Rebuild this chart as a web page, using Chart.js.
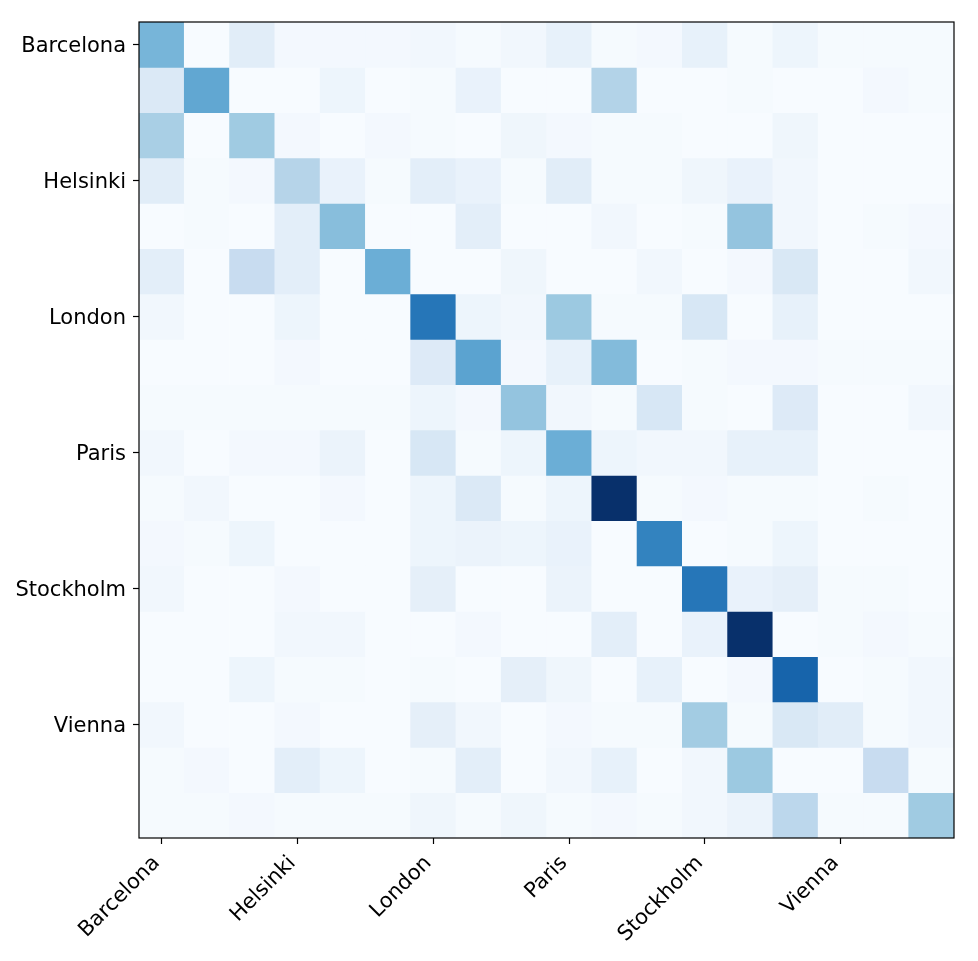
<!DOCTYPE html>
<html>
<head>
<meta charset="utf-8">
<script src="https://cdn.jsdelivr.net/npm/chart.js@4/dist/chart.umd.min.js"></script>
<style>
html,body{margin:0;padding:0;background:#fff;}
#c{display:block;}
</style>
</head>
<body>
<canvas id="c" width="978" height="961"></canvas>
<script>
// Categories (rows = true, columns = predicted)
const categories = ['Barcelona','Berlin','Budapest','Helsinki','Istanbul','Lisbon','London','Madrid','Munich','Paris','Prague','Rome','Stockholm','Tallinn','Valencia','Vienna','Warsaw','Zurich'];
// Which tick labels are shown (every third category)
const tickIndices = [0,3,6,9,12,15];

// Cell values, one array per row (top to bottom)
const row0  = [47,0,11,2,2,2,3,1,3,8,1,2,8,1,5,1,1,1];
const row1  = [14,53,0,0,5,0,1,7,0,0,31,0,0,1,0,0,2,1];
const row2  = [34,0,37,2,0,2,1,0,4,2,1,1,0,0,4,0,0,0];
const row3  = [11,1,2,30,7,1,10,7,1,11,1,1,4,7,3,0,0,0];
const row4  = [0,1,0,10,43,0,0,10,0,0,3,0,1,40,3,0,1,2];
const row5  = [10,0,24,10,0,50,0,0,4,0,0,3,0,2,15,0,0,3];
const row6  = [3,0,0,5,0,0,73,5,3,38,1,1,16,0,8,0,0,0];
const row7  = [0,0,0,2,0,0,13,55,2,8,44,0,1,2,2,1,1,1];
const row8  = [1,1,1,1,1,1,5,2,40,3,1,16,1,0,13,0,0,3];
const row9  = [3,0,2,2,6,0,16,1,5,50,5,3,3,8,8,0,0,0];
const row10 = [1,3,0,0,2,0,5,14,1,5,100,1,2,1,1,0,1,0];
const row11 = [2,1,5,0,0,0,5,6,5,7,0,68,0,1,5,0,0,0];
const row12 = [3,0,0,2,0,0,9,0,0,6,0,0,73,7,9,1,1,0];
const row13 = [0,0,0,3,3,0,0,2,0,0,10,0,7,100,0,1,2,1];
const row14 = [0,0,5,1,1,0,1,0,9,4,0,8,0,2,80,0,1,3];
const row15 = [3,0,0,2,0,0,9,3,0,2,1,1,36,1,15,11,1,3];
const row16 = [1,2,0,10,5,0,1,10,0,3,8,0,3,38,0,0,24,1];
const row17 = [1,1,2,1,1,1,4,1,4,1,2,1,3,6,28,1,1,37];
const rows = [row0,row1,row2,row3,row4,row5,row6,row7,row8,row9,row10,row11,row12,row13,row14,row15,row16,row17];

// matplotlib "Blues" colormap stops
const bluesStops = [[247,251,255],[222,235,247],[198,219,239],[158,202,225],[107,174,214],[66,146,198],[33,113,181],[8,81,156],[8,48,107]];
function blues(t){
  t = Math.max(0, Math.min(1, t));
  const p = t * (bluesStops.length - 1);
  const i = Math.min(Math.floor(p), bluesStops.length - 2);
  const f = p - i;
  const a = bluesStops[i], b = bluesStops[i+1];
  const c = a.map((v,k)=>Math.round(v + (b[k]-v)*f));
  return `rgb(${c[0]},${c[1]},${c[2]})`;
}
const vmax = Math.max(...rows.map(r=>Math.max(...r)));

const datasets = rows.map((vals, r) => ({
  label: categories[r],
  data: vals.map(() => [r, r + 1]),
  backgroundColor: vals.map(v => blues(v / vmax)),
  borderWidth: 0,
  barPercentage: 1,
  categoryPercentage: 1,
  grouped: false
}));

const frame = {
  id: 'frame',
  afterDraw(chart){
    const {ctx, chartArea:a} = chart;
    ctx.save();
    ctx.strokeStyle = '#000';
    ctx.lineWidth = 1.2;
    ctx.strokeRect(a.left, a.top, a.right - a.left, a.bottom - a.top);
    ctx.restore();
  }
};

const font = {family: 'DejaVu Sans', size: 21};

new Chart(document.getElementById('c'), {
  type: 'bar',
  data: {labels: categories, datasets},
  options: {
    responsive: false,
    animation: false,
    events: [],
    layout: {padding: {top: 22, right: 24, left: 0, bottom: 0}},
    plugins: {legend: {display: false}, tooltip: {enabled: false}},
    scales: {
      x: {
        type: 'category',
        offset: true,
        grid: {display: true, offset: false, drawOnChartArea: false, drawTicks: true, tickLength: 6, tickColor: '#000', tickWidth: 1.2},
        border: {display: false},
        afterBuildTicks: (s) => { s.ticks = s.ticks.filter(t => tickIndices.includes(t.value)); },
        ticks: {autoSkip: false, maxRotation: 45, minRotation: 45, color: '#000', font, padding: 7, labelOffset: -5,
          callback: function(v){ return categories[v]; }},
        afterFit: (s) => { s.height = 123; }
      },
      y: {
        type: 'linear',
        min: 0, max: 18,
        reverse: true,
        grid: {display: true, drawOnChartArea: false, drawTicks: true, tickLength: 6, tickColor: '#000', tickWidth: 1.2},
        border: {display: false},
        afterBuildTicks: (s) => { s.ticks = tickIndices.map(i => ({value: i + 0.5})); },
        ticks: {color: '#000', font, padding: 7, labelOffset: 2,
          callback: (v) => categories[Math.floor(v)]},
        afterFit: (s) => { s.width = 139; }
      }
    }
  },
  plugins: [frame]
});
</script>
</body>
</html>
